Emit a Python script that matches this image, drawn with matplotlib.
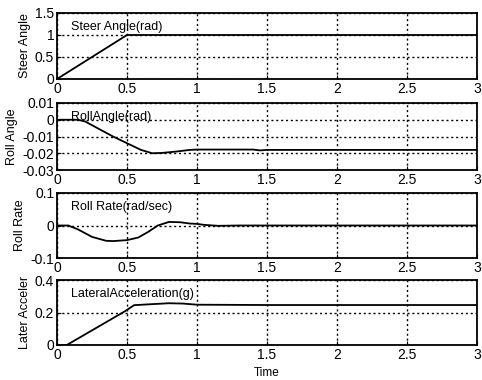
import numpy as np
import matplotlib.pyplot as plt

plt.rcParams['font.family'] = ['Liberation Sans', 'DejaVu Sans']

# time histories of the steering manoeuvre
steer_t = [0, 0.5, 3]
steer = [0, 1.0, 1.0]

roll_t = [0, 0.15, 0.2, 0.3, 0.4, 0.5, 0.6, 0.68, 0.75, 0.85, 0.95, 1.0,
          1.2, 1.4, 1.45, 1.5, 2, 3]
roll = [0, 0, -0.001, -0.0055, -0.0100, -0.0140, -0.0180, -0.0200, -0.0198,
        -0.0190, -0.0180, -0.0178, -0.0178, -0.0178, -0.0183, -0.0180,
        -0.0180, -0.0180]

rate_t = [0, 0.08, 0.15, 0.25, 0.35, 0.4, 0.5, 0.58, 0.65, 0.72, 0.8, 0.88,
          0.95, 1.0, 1.05, 1.15, 1.3, 3]
rate = [0, 0, -0.012, -0.035, -0.047, -0.048, -0.045, -0.037, -0.02, 0.0,
        0.011, 0.010, 0.006, 0.005, 0.002, -0.001, 0, 0]

lat_t = [0, 0.07, 0.3, 0.49, 0.55, 0.65, 0.8, 0.9, 1.0, 1.5, 3]
lat = [0, 0, 0.115, 0.21, 0.245, 0.25, 0.257, 0.255, 0.248, 0.246, 0.246]

titles = ['Steer Angle(rad)', 'RollAngle(rad)', 'Roll Rate(rad/sec)',
          'LateralAcceleration(g)']
ylabels = ['Steer Angle', 'Roll Angle', 'Roll Rate', 'Later Acceler']
ylims = [(0, 1.5), (-0.03, 0.01), (-0.1, 0.1), (0, 0.4)]
yticks = [[0, 0.5, 1, 1.5], [-0.03, -0.02, -0.01, 0, 0.01],
          [-0.1, 0, 0.1], [0, 0.2, 0.4]]
ytick_labels = [['0', '0.5', '1', '1.5'],
                ['-0.03', '-0.02', '-0.01', '0', '0.01'],
                ['-0.1', '0', '0.1'], ['0', '0.2', '0.4']]
xticks = [0, 0.5, 1, 1.5, 2, 2.5, 3]
xtick_labels = ['0', '0.5', '1', '1.5', '2', '2.5', '3']

series = [(steer_t, steer), (roll_t, roll), (rate_t, rate), (lat_t, lat)]

W, H = 482, 380
fig = plt.figure(figsize=(W / 100, H / 100), dpi=100)
# panel boxes in pixels: (top, bottom)
boxes = [(13, 79), (103, 170), (193, 258), (280, 345)]
left, right = 57, 477

for i, (top, bot) in enumerate(boxes):
    ax = fig.add_axes([left / W, 1 - bot / H, (right - left) / W, (bot - top) / H])
    t, v = series[i]
    ax.plot(t, v, color='black', lw=1.3)
    ax.set_xlim(0, 3)
    ax.set_ylim(*ylims[i])
    ax.set_xticks(xticks)
    ax.set_xticklabels(xtick_labels)
    ax.set_yticks(yticks[i])
    ax.set_yticklabels(ytick_labels[i])
    ax.grid(True, linestyle=(0, (1.5, 2)), color='black', lw=1.0)
    ax.tick_params(direction='in', length=3, labelsize=10, pad=2,
                   colors='black')
    for s in ax.spines.values():
        s.set_linewidth(1.3)
    ax.set_ylabel(ylabels[i], fontsize=9, labelpad=3)
    ax.text(0.033, 0.88, titles[i], transform=ax.transAxes, fontsize=9,
            va='top', ha='left')
    if i == 3:
        ax.set_xlabel('Time', fontsize=8.5, labelpad=4)

fig.savefig('out.png', dpi=100)
